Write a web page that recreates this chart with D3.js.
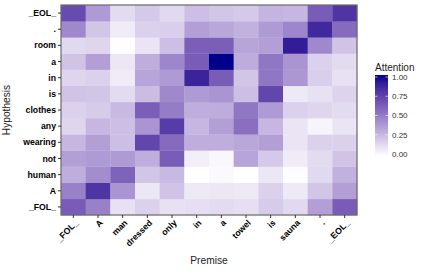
<!DOCTYPE html>
<html>
<head>
<meta charset="utf-8">
<script src="https://cdn.jsdelivr.net/npm/d3@7"></script>
<style>
  body { margin: 0; background: #fff; }
  text { font-family: "Liberation Sans", Arial, Helvetica, sans-serif; }
</style>
</head>
<body>
<div id="chart"></div>
<script>
// premise words along x, hypothesis words along y (bottom -> top)
const premise = ["_FOL_", "A", "man", "dressed", "only", "in", "a", "towel", "is", "sauna", ".", "_EOL_"];
const hypothesis = ["_FOL_", "A", "human", "not", "wearing", "any", "clothes", "is", "in", "a", "room", ".", "_EOL_"];

// attention rows, same order as hypothesis
const attFOL     = [0.63, 0.48, 0.11, 0.17, 0.11, 0.12, 0.13, 0.12, 0.19, 0.14, 0.36, 0.63];
const attA       = [0.48, 0.80, 0.40, 0.09, 0.22, 0.08, 0.09, 0.08, 0.17, 0.08, 0.21, 0.36];
const attHuman   = [0.30, 0.43, 0.60, 0.21, 0.26, 0.00, 0.02, 0.00, 0.09, 0.01, 0.14, 0.29];
const attNot     = [0.36, 0.38, 0.38, 0.30, 0.63, 0.06, 0.03, 0.34, 0.20, 0.07, 0.13, 0.22];
const attWearing = [0.27, 0.36, 0.24, 0.72, 0.57, 0.30, 0.30, 0.33, 0.36, 0.10, 0.17, 0.17];
const attAny     = [0.15, 0.27, 0.24, 0.40, 0.77, 0.27, 0.36, 0.55, 0.27, 0.10, 0.04, 0.10];
const attClothes = [0.17, 0.19, 0.26, 0.62, 0.50, 0.30, 0.31, 0.52, 0.38, 0.17, 0.15, 0.13];
const attIs      = [0.22, 0.21, 0.13, 0.25, 0.45, 0.38, 0.40, 0.24, 0.72, 0.08, 0.11, 0.16];
const attIn      = [0.15, 0.17, 0.07, 0.34, 0.38, 0.87, 0.63, 0.21, 0.52, 0.39, 0.18, 0.11];
const attSmallA  = [0.22, 0.36, 0.09, 0.30, 0.46, 0.63, 1.00, 0.31, 0.52, 0.40, 0.17, 0.13];
const attRoom    = [0.14, 0.15, 0.00, 0.10, 0.24, 0.62, 0.62, 0.34, 0.36, 0.90, 0.45, 0.22];
const attDot     = [0.45, 0.21, 0.07, 0.17, 0.18, 0.36, 0.33, 0.29, 0.38, 0.46, 0.85, 0.57];
const attEOL     = [0.70, 0.38, 0.13, 0.20, 0.14, 0.24, 0.21, 0.20, 0.28, 0.27, 0.63, 0.80];

const attention = [attFOL, attA, attHuman, attNot, attWearing, attAny, attClothes,
                   attIs, attIn, attSmallA, attRoom, attDot, attEOL];

const legendBreaks = [0, 0.25, 0.5, 0.75, 1];

const W = 427, H = 270;
const panel = {left: 61, top: 5, right: 357, bottom: 215};

const svg = d3.select("#chart").append("svg")
    .attr("width", W)
    .attr("height", H);

const x = d3.scaleBand().domain(d3.range(premise.length)).range([panel.left, panel.right]).padding(0);
const y = d3.scaleBand().domain(d3.range(hypothesis.length)).range([panel.bottom, panel.top]).padding(0);
const color = d3.scaleSequential(d3.interpolateLab("white", "darkblue")).domain([0, 1]);

// flatten to cells
const cells = [];
attention.forEach(function(row, j) {
  row.forEach(function(v, i) { cells.push({i: i, j: j, v: v}); });
});

svg.append("g").selectAll("rect")
    .data(cells)
  .enter().append("rect")
    .attr("x", d => x(d.i))
    .attr("y", d => y(d.j))
    .attr("width", x.bandwidth() + 0.3)
    .attr("height", y.bandwidth() + 0.3)
    .attr("fill", d => color(d.v));

// panel border
svg.append("rect")
    .attr("x", panel.left)
    .attr("y", panel.top)
    .attr("width", panel.right - panel.left)
    .attr("height", panel.bottom - panel.top)
    .attr("fill", "none")
    .attr("stroke", "#6b6b6b")
    .attr("stroke-width", 1.2);

// x axis
const xAxis = svg.append("g");
xAxis.selectAll("line")
    .data(premise)
  .enter().append("line")
    .attr("x1", (d, i) => x(i) + x.bandwidth() / 2)
    .attr("x2", (d, i) => x(i) + x.bandwidth() / 2)
    .attr("y1", panel.bottom)
    .attr("y2", panel.bottom + 3)
    .attr("stroke", "#333")
    .attr("stroke-width", 1);
xAxis.selectAll("text")
    .data(premise)
  .enter().append("text")
    .attr("transform", (d, i) => "translate(" + (x(i) + x.bandwidth() / 2 + 1) + "," + (panel.bottom + 4) + ") rotate(-45)")
    .attr("text-anchor", "end")
    .attr("dy", "0.72em")
    .attr("font-size", "8.7px")
    .attr("font-weight", "bold")
    .attr("fill", "#000")
    .text(d => d);

// y axis
const yAxis = svg.append("g");
yAxis.selectAll("line")
    .data(hypothesis)
  .enter().append("line")
    .attr("x1", panel.left - 3)
    .attr("x2", panel.left)
    .attr("y1", (d, j) => y(j) + y.bandwidth() / 2)
    .attr("y2", (d, j) => y(j) + y.bandwidth() / 2)
    .attr("stroke", "#333")
    .attr("stroke-width", 1);
yAxis.selectAll("text")
    .data(hypothesis)
  .enter().append("text")
    .attr("x", panel.left - 5)
    .attr("y", (d, j) => y(j) + y.bandwidth() / 2)
    .attr("dy", "0.35em")
    .attr("text-anchor", "end")
    .attr("font-size", "8.7px")
    .attr("font-weight", "bold")
    .attr("fill", "#000")
    .text(d => d);

// axis titles
svg.append("text")
    .attr("x", (panel.left + panel.right) / 2)
    .attr("y", 264)
    .attr("text-anchor", "middle")
    .attr("font-size", "10.2px")
    .attr("fill", "#222")
    .text("Premise");
svg.append("text")
    .attr("transform", "translate(10," + ((panel.top + panel.bottom) / 2) + ") rotate(-90)")
    .attr("text-anchor", "middle")
    .attr("font-size", "10.2px")
    .attr("fill", "#222")
    .text("Hypothesis");

// legend colorbar
const bar = {x: 375, w: 13, top: 77, bottom: 154};
const ly = d3.scaleLinear().domain([0, 1]).range([bar.bottom, bar.top]);

const grad = svg.append("defs").append("linearGradient")
    .attr("id", "attgrad")
    .attr("x1", 0).attr("y1", 1).attr("x2", 0).attr("y2", 0);
d3.range(0, 1.0001, 0.1).forEach(function(t) {
  grad.append("stop").attr("offset", t).attr("stop-color", color(t));
});

svg.append("text")
    .attr("x", bar.x)
    .attr("y", 71)
    .attr("font-size", "10px")
    .attr("fill", "#222")
    .text("Attention");

svg.append("rect")
    .attr("x", bar.x)
    .attr("y", bar.top - 2)
    .attr("width", bar.w)
    .attr("height", bar.bottom - bar.top + 4)
    .attr("fill", "url(#attgrad)");

const lg = svg.append("g");
legendBreaks.forEach(function(b) {
  lg.append("line")
      .attr("x1", bar.x).attr("x2", bar.x + 2.5)
      .attr("y1", ly(b)).attr("y2", ly(b))
      .attr("stroke", "#fff").attr("stroke-width", 0.8).attr("opacity", 0.8);
  lg.append("line")
      .attr("x1", bar.x + bar.w - 2.5).attr("x2", bar.x + bar.w)
      .attr("y1", ly(b)).attr("y2", ly(b))
      .attr("stroke", "#fff").attr("stroke-width", 0.8).attr("opacity", 0.8);
  lg.append("text")
      .attr("x", bar.x + bar.w + 4)
      .attr("y", ly(b))
      .attr("dy", "0.35em")
      .attr("font-size", "8px")
      .attr("fill", "#333")
      .text(b.toFixed(2));
});
</script>
</body>
</html>
